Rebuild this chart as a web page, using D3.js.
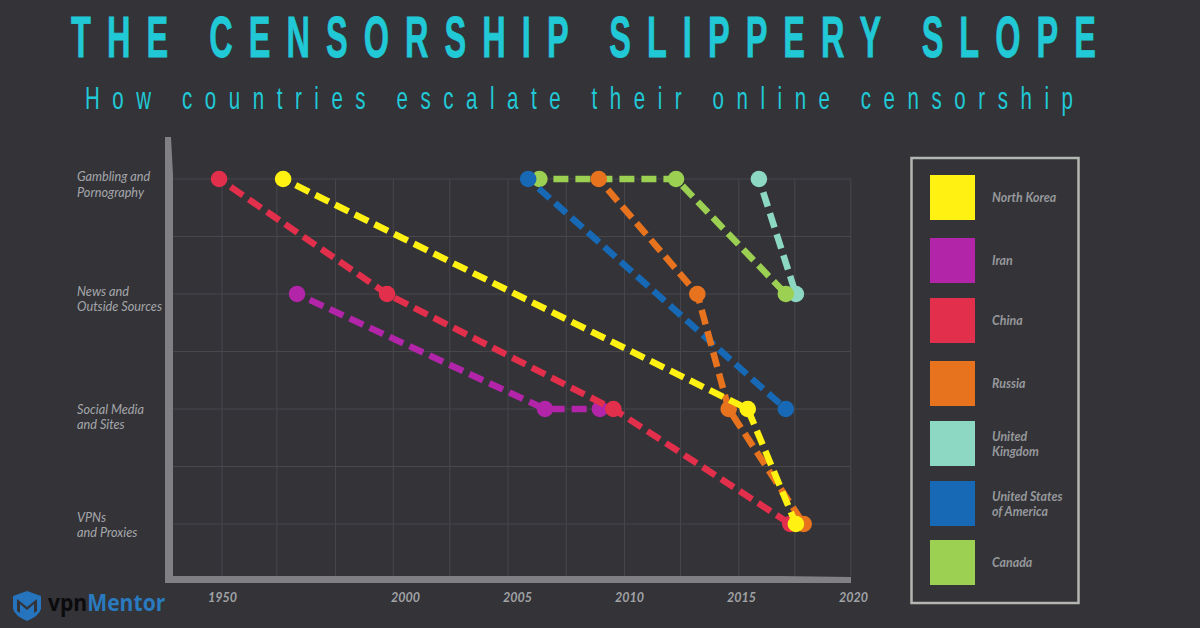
<!DOCTYPE html>
<html>
<head>
<meta charset="utf-8">
<script src="https://cdn.jsdelivr.net/npm/d3@7/dist/d3.min.js"></script>
<style>
  html, body { margin: 0; padding: 0; background: #333338; }
  svg { display: block; }
</style>
</head>
<body>
<div id="chart"></div>
<script>
// values
const titleText = 'THE CENSORSHIP SLIPPERY SLOPE';
const subtitleText = 'How countries escalate their online censorship';

const levelLabels = [
  ['Gambling and', 'Pornography'],
  ['News and', 'Outside Sources'],
  ['Social Media', 'and Sites'],
  ['VPNs', 'and Proxies']
];
const yearTicks = [1950, 2000, 2005, 2010, 2015, 2020];
const gridYears = [1950, 1965, 1981, 1996.8, 2002, 2004.6, 2007.2, 2009.8, 2012.3, 2014.9, 2017.4, 2019.9];
const gridLevels = [0, 0.5, 1, 1.5, 2, 2.5, 3];

const legendNames = [['North Korea'], ['Iran'], ['China'], ['Russia'], ['United', 'Kingdom'], ['United States', 'of America'], ['Canada']];
const legendColors = ['#fff212', '#b225a8', '#e22f4c', '#e8731f', '#8dd8c2', '#1769b5', '#9bd052'];

const northKorea = [[1966.7, 0], [2015.3, 2], [2017.45, 3]];
const iran = [[1970.5, 1], [2006.25, 2], [2008.7, 2]];
const china = [[1949.2, 0], [1995.1, 1], [2009.3, 2], [2017.2, 3]];
const russia = [[2008.65, 0], [2013.05, 1], [2014.45, 2], [2017.8, 3]];
const unitedKingdom = [[2015.8, 0], [2017.45, 1]];
const usa = [[2005.5, 0], [2017, 2]];
const canada = [[2006, 0], [2012.1, 0], [2017, 1]];

// paint order, later ones sit on top
const drawOrder = [
  [unitedKingdom, 4], [canada, 6], [usa, 5], [russia, 3], [iran, 1], [china, 2], [northKorea, 0]
];

const width = 1200, height = 628;
const svg = d3.select('#chart').append('svg')
  .attr('width', width)
  .attr('height', height)
  .attr('viewBox', `0 0 ${width} ${height}`);

svg.append('rect').attr('width', width).attr('height', height).attr('fill', '#333338');

// titles: no narrow font installed, so squeeze Liberation Sans horizontally
const titleSqueeze = 0.56, subtitleSqueeze = 0.64;
svg.append('text')
  .attr('transform', `translate(71,57) scale(${titleSqueeze},1)`)
  .attr('textLength', 1025 / titleSqueeze).attr('lengthAdjust', 'spacing')
  .attr('font-family', '"Liberation Sans", sans-serif')
  .attr('font-weight', 700).attr('font-size', 58)
  .attr('fill', '#21c9d6')
  .attr('stroke', '#21c9d6').attr('stroke-width', 0.8)
  .text(titleText);

svg.append('text')
  .attr('transform', `translate(85,109) scale(${subtitleSqueeze},1)`)
  .attr('textLength', 988 / subtitleSqueeze).attr('lengthAdjust', 'spacing')
  .attr('font-family', '"Liberation Sans", sans-serif')
  .attr('font-size', 32)
  .attr('fill', '#21c9d6')
  .text(subtitleText);

// the time axis of the original is compressed before 2000
const x = d3.scaleLinear().domain([1950, 2000, 2020]).range([222, 405, 853]);
const y = d3.scaleLinear().domain([0, 3]).range([179, 524]);

const plotLeft = 173, plotRight = 851, plotBottom = 576;

const grid = svg.append('g').attr('stroke', '#47474c').attr('stroke-width', 1);
grid.selectAll('line.h')
  .data(gridLevels)
  .join('line')
  .attr('class', 'h')
  .attr('x1', plotLeft).attr('x2', plotRight)
  .attr('y1', d => y(d)).attr('y2', d => y(d));
grid.selectAll('line.v')
  .data(gridYears)
  .join('line')
  .attr('class', 'v')
  .attr('x1', d => x(d)).attr('x2', d => x(d))
  .attr('y1', y(0)).attr('y2', plotBottom);

// thick axis frame, tapered at the ends like the original
svg.append('path')
  .attr('d', 'M165,137 L171,137 L173,175 L173,576 L780,576 L851,577 L851,583 L165,583 Z')
  .attr('fill', '#818185');

// year labels
const xAxis = svg.append('g')
  .attr('transform', 'translate(0,589)')
  .call(d3.axisBottom(x).tickValues(yearTicks).tickFormat(d3.format('d')).tickSize(0).tickPadding(4));
xAxis.select('.domain').remove();
xAxis.selectAll('text')
  .attr('font-family', 'Lato, sans-serif')
  .attr('font-style', 'italic').attr('font-weight', 700)
  .attr('font-size', 12.5)
  .attr('fill', '#a0a2a5');

// category labels
const labelShift = [-2, -2.5, 0.5, -6.5];
const labelRows = svg.append('g')
  .selectAll('text')
  .data(levelLabels)
  .join('text')
  .attr('font-family', 'Lato, sans-serif')
  .attr('font-style', 'italic')
  .attr('font-size', 12.7)
  .attr('fill', '#a5a7aa')
  .attr('transform', (d, i) => `translate(77,${y(i) + labelShift[i] + 4})`);
labelRows.selectAll('tspan')
  .data(d => d)
  .join('tspan')
  .attr('x', 0)
  .attr('y', (d, i) => i * 15.5)
  .text(d => d);

// dashed series
const line = d3.line().x(d => x(d[0])).y(d => y(d[1]));
const series = svg.append('g').selectAll('g')
  .data(drawOrder)
  .join('g');
series.append('path')
  .attr('d', d => line(d[0]))
  .attr('fill', 'none')
  .attr('stroke', d => legendColors[d[1]])
  .attr('stroke-width', 6.5)
  .attr('stroke-dasharray', '15 7')
  .attr('stroke-dashoffset', -14);
series.selectAll('circle')
  .data(d => d[0].map(p => ({ p, color: legendColors[d[1]] })))
  .join('circle')
  .attr('cx', d => x(d.p[0]))
  .attr('cy', d => y(d.p[1]))
  .attr('r', 8.3)
  .attr('fill', d => d.color);

// legend
const legendTop = [175, 238, 298, 361, 421, 481, 540];
const legend = svg.append('g');
legend.append('rect')
  .attr('x', 911.5).attr('y', 158)
  .attr('width', 167).attr('height', 445)
  .attr('fill', 'none')
  .attr('stroke', '#b4b7b1').attr('stroke-width', 2.5);
const entries = legend.selectAll('g')
  .data(legendNames)
  .join('g')
  .attr('transform', (d, i) => `translate(930,${legendTop[i]})`);
entries.append('rect')
  .attr('width', 45).attr('height', 45)
  .attr('fill', (d, i) => legendColors[i]);
const entryText = entries.append('text')
  .attr('font-family', 'Lato, sans-serif')
  .attr('font-style', 'italic').attr('font-weight', 700)
  .attr('font-size', 12.4)
  .attr('fill', '#96989b');
entryText.selectAll('tspan')
  .data(d => d.map(s => ({ s, n: d.length })))
  .join('tspan')
  .attr('x', 62)
  .attr('y', (d, i) => (d.n === 1 ? 27 : 19.5 + i * 15.5))
  .text(d => d.s);

// vpnMentor logo
const logo = svg.append('g').attr('transform', 'translate(13,591)');
logo.append('path')
  .attr('d', 'M0,5 L14,0 L28,5 L28,18 Q26,25 14,30 Q2,25 0,18 Z')
  .attr('fill', '#2674bd');
logo.append('path')
  .attr('d', 'M4,8 L14,16 L24,8 L24,20 L21,22 L21,13 L14,19 L7,13 L7,22 L4,20 Z')
  .attr('fill', '#333338');
const logoText = svg.append('text')
  .attr('transform', 'translate(48,611) scale(0.88,1)')
  .attr('font-family', '"Open Sans", sans-serif')
  .attr('font-weight', 700)
  .attr('font-size', 24);
logoText.append('tspan').attr('fill', '#0b0b0d').text('vpn');
logoText.append('tspan').attr('fill', '#2a7abf').text('Mentor');
</script>
</body>
</html>
